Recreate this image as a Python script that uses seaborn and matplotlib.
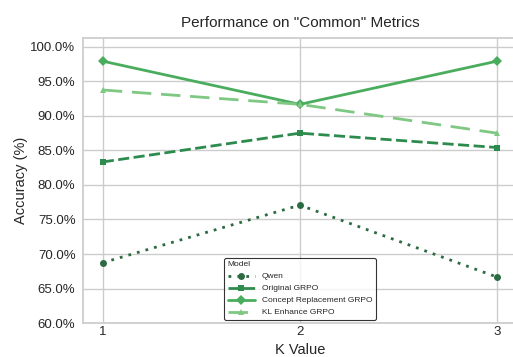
import numpy as np
import pandas as pd
import seaborn as sns
from matplotlib import pyplot as plt
from matplotlib.ticker import PercentFormatter

# accuracy (%) per K value
k_values = [1, 2, 3]
models = ["Qwen", "Original GRPO", "Concept Replacement GRPO", "KL Enhance GRPO"]
qwen = [68.75, 77.08, 66.67]
original_grpo = [83.33, 87.50, 85.42]
concept_grpo = [97.92, 91.67, 97.92]
kl_grpo = [93.75, 91.67, 87.50]

colors = ["#2c6a42", "#2e8b4e", "#4aad5e", "#7fc883"]

df = pd.DataFrame({
    "K Value": k_values * 4,
    "Accuracy": qwen + original_grpo + concept_grpo + kl_grpo,
    "Model": [m for m in models for _ in k_values],
})

sns.set_theme(style="whitegrid")
plt.rcParams["font.family"] = ["Liberation Sans", "DejaVu Sans"]

fig = plt.figure(figsize=(5.13, 3.57), dpi=100)
ax = fig.add_axes([0.162, 0.095, 0.845, 0.799])

sns.lineplot(
    data=df, x="K Value", y="Accuracy", hue="Model", style="Model",
    palette=dict(zip(models, colors)),
    markers=dict(zip(models, ["o", "s", "D", "^"])),
    dashes=dict(zip(models, [(1, 2.2), (4, 1.6), "", (7, 3.5)])),
    linewidth=2, markersize=5, markeredgewidth=0, ax=ax,
)

ax.set_ylim(60, 101.3)
ax.set_xticks(k_values)
ax.yaxis.set_major_formatter(PercentFormatter(decimals=1))
ax.tick_params(axis="y", labelsize=9.5, length=0, pad=5.5)
ax.tick_params(axis="x", labelsize=9.5, length=0, pad=2)
ax.set_title('Performance on "Common" Metrics', fontsize=11, pad=8)
ax.set_xlabel("K Value", fontsize=10.5, labelpad=3.5)
ax.set_ylabel("Accuracy (%)", fontsize=10.5, labelpad=2)

leg = ax.legend(title="Model", loc="lower center", fontsize=6, title_fontsize=6,
                frameon=True, borderaxespad=0.4, bbox_to_anchor=(0.5, 0.0),
                handlelength=3.3)
leg.get_frame().set_edgecolor("black")
leg.get_frame().set_linewidth(0.8)
leg._legend_box.align = "left"

fig.savefig("out.png", dpi=100)
